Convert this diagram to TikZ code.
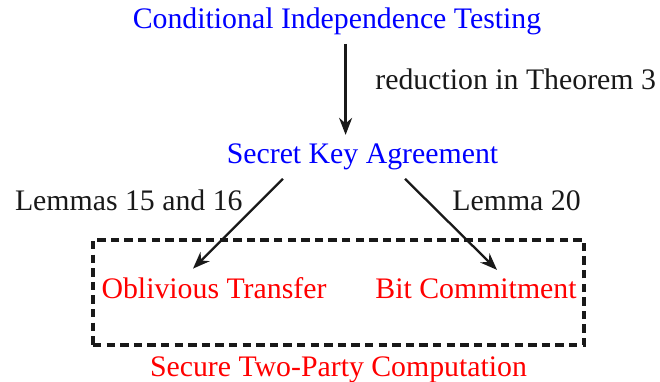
\documentclass[tikz,border=0pt]{standalone}
\usepackage{fontspec}
\setmainfont{Liberation Serif}
\usepackage{xcolor}
\usetikzlibrary{arrows.meta}
\definecolor{taskblue}{HTML}{0000FF}
\definecolor{primred}{HTML}{FF0000}

\begin{document}
\begin{tikzpicture}[x=0.5pt, y=-0.5pt,
    every node/.style={font=\fontsize{14.9}{17}\selectfont, inner sep=0pt},
    task/.style={text=taskblue, anchor=base},
    prim/.style={text=primred, anchor=base},
    note/.style={text=black!90, anchor=base},
    link/.style={-{Stealth[length=8.5pt, width=6.5pt]}, line width=1.15pt, black!90}]
    \useasboundingbox (0,0) rectangle (660,381);
    \node[task] (cit) at (337,28) {Conditional Independence Testing};
    \node[task] (ska) at (362.5,163) {Secret Key Agreement};
    \node[prim] (ot) at (214,298) {Oblivious Transfer};
    \node[prim] (bc) at (476,298) {Bit Commitment};
    \node[draw=black!90, dashed, dash pattern=on 4.2pt off 2.6pt, line width=1.6pt,
      minimum width=245.5pt, minimum height=52.5pt] (box) at (338.5,292.5) {};
    \node[prim] (stpc) at (338.5,376) {Secure Two-Party Computation};
    \node[note, anchor=base west] (red) at (375,89) {reduction in Theorem 3};
    \node[note, anchor=base east] (lem1) at (243,210) {Lemmas 15 and 16};
    \node[note, anchor=base west] (lem2) at (452,210) {Lemma 20};
    \draw[link, shorten <=4.5pt, shorten >=4pt] ([xshift=4.3pt]cit.south) -- ([xshift=-8.45pt]ska.north);
    \draw[link] ([xshift=-39.75pt, yshift=-4.5pt]ska.south) -- ([xshift=-10.5pt, yshift=4pt]ot.north);
    \draw[link] ([xshift=21.25pt, yshift=-4.5pt]ska.south) -- ([xshift=10.5pt, yshift=4pt]bc.north);
\end{tikzpicture}
\end{document}
